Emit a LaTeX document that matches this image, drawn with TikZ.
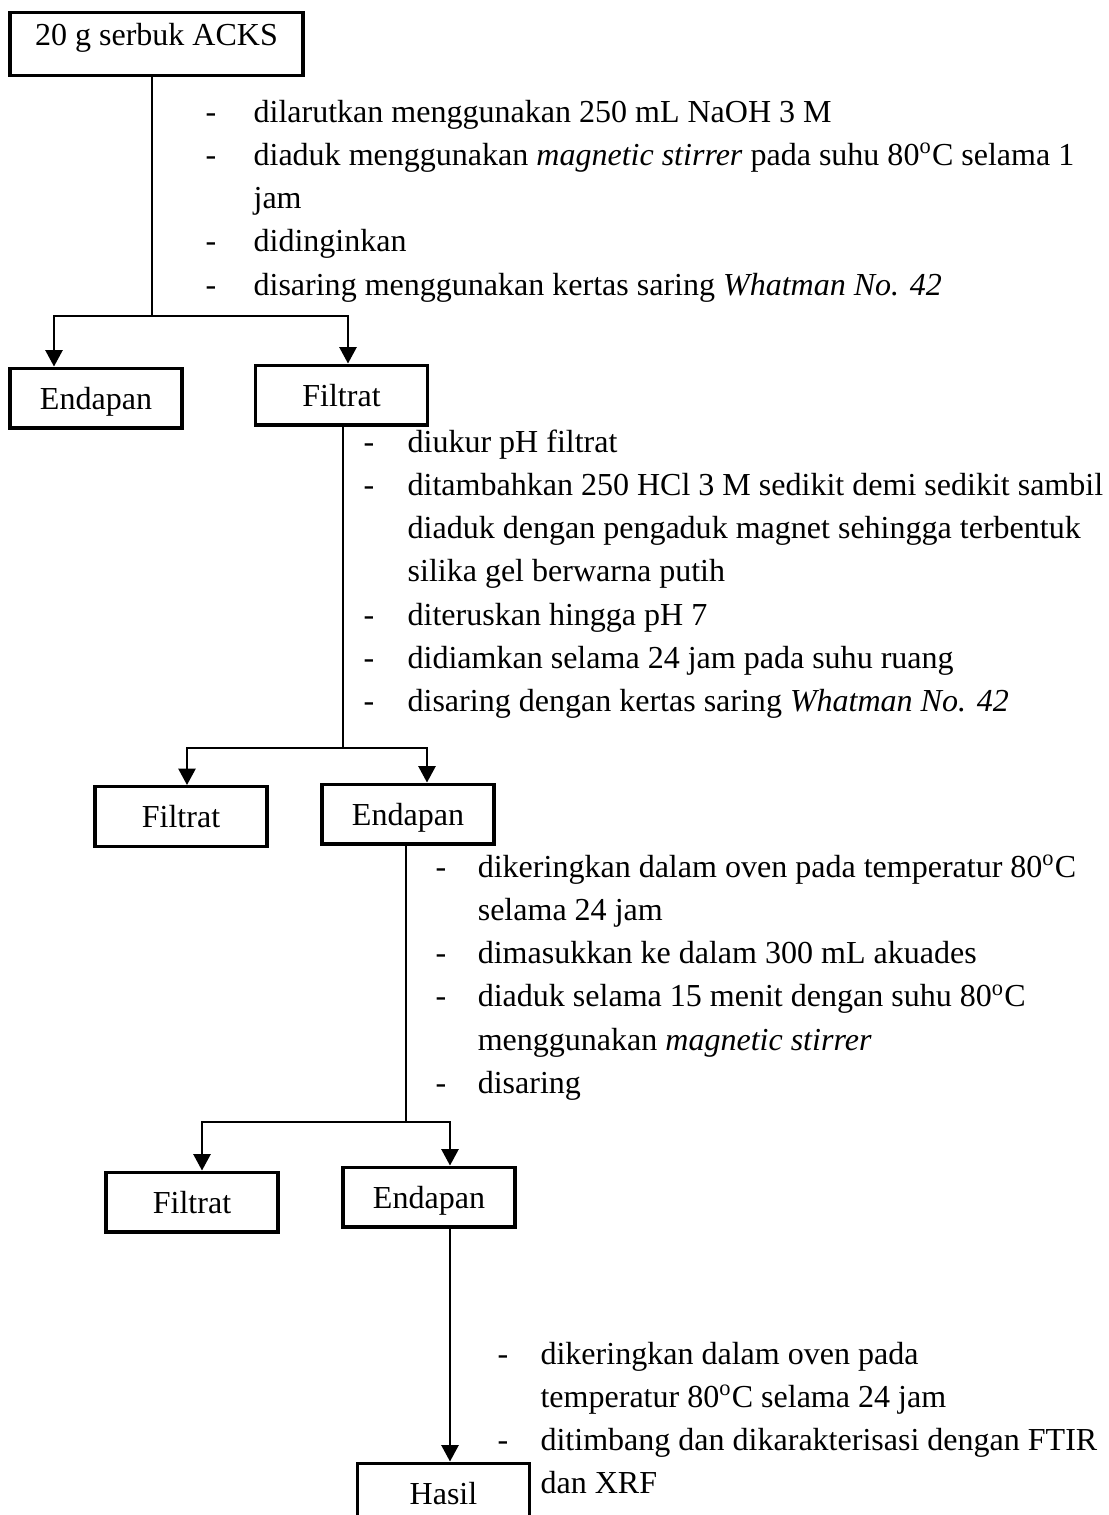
\documentclass[tikz,border=0pt]{standalone}
\usepackage{fontspec}
\setmainfont{Liberation Serif}
\usepackage{tikz}
\usetikzlibrary{
  arrows.meta,
  calc
}

\begin{document}
\begin{tikzpicture}[
  x=0.3785pt, y=-0.3785pt,
  every node/.style={font=\fontsize{12.12}{16.39}\selectfont, inner sep=0pt},
  box/.style={rectangle, draw, line width=1.15pt, minimum width=65.1pt,
              minimum height=22.7pt, text height=10.2pt, text depth=1.8pt},
  topbox/.style={box, minimum width=110.9pt, text height=12.5pt, text depth=11.35pt},
  steps/.style={anchor=base west},
  arr/.style={-{Triangle[width=6.5pt,length=6.2pt]}, line width=0.75pt},
  ln/.style={line width=0.75pt},
]
\useasboundingbox (0,0) rectangle (1109,1515);
\clip (0,0) rectangle (1109,1515);

% boxes
\node[topbox, anchor=north](b0) at (156.5,11) {20 g serbuk ACKS};
\node[box](e1) at (96,398)    {Endapan};
\node[box](f1) at (341.5,395) {Filtrat};
\node[box](f2) at (181,816.5) {Filtrat};
\node[box](e2) at (408,814)   {Endapan};
\node[box](f3) at (192,1202)  {Filtrat};
\node[box](e3) at (429,1197)  {Endapan};
\node[box](hs) at (443.5,1493) {Hasil};

% steps
\node[steps](t1) at (205,122) {\begin{tabular}[t]{@{}p{18.2pt}@{}l@{}}
- & dilarutkan menggunakan 250 mL NaOH 3 M\\
- & diaduk menggunakan \textit{magnetic stirrer} pada suhu 80\textsuperscript{o}C selama 1\\
  & jam\\
- & didinginkan\\
- & disaring menggunakan kertas saring \textit{Whatman No. 42}
\end{tabular}};
\node[steps](t2) at (363,452) {\begin{tabular}[t]{@{}p{16.7pt}@{}l@{}}
- & diukur pH filtrat\\
- & ditambahkan 250 HCl 3 M sedikit demi sedikit sambil\\
  & diaduk dengan pengaduk magnet sehingga terbentuk\\
  & silika gel berwarna putih\\
- & diteruskan hingga pH 7\\
- & didiamkan selama 24 jam pada suhu ruang\\
- & disaring dengan kertas saring \textit{Whatman No. 42}
\end{tabular}};
\node[steps](t3) at (435,877) {\begin{tabular}[t]{@{}p{16pt}@{}l@{}}
- & dikeringkan dalam oven pada temperatur 80\textsuperscript{o}C\\
  & selama 24 jam\\
- & dimasukkan ke dalam 300 mL akuades\\
- & diaduk selama 15 menit dengan suhu 80\textsuperscript{o}C\\
  & menggunakan \textit{magnetic stirrer}\\
- & disaring
\end{tabular}};
\node[steps](t4) at (497,1364) {\begin{tabular}[t]{@{}p{16.3pt}@{}l@{}}
- & dikeringkan dalam oven pada\\
  & temperatur 80\textsuperscript{o}C selama 24 jam\\
- & ditimbang dan dikarakterisasi dengan FTIR\\
  & dan XRF
\end{tabular}};

% split points
\coordinate (s1) at (152,316);
\coordinate (s2) at (343,748);
\coordinate (s3) at (406,1122);

\draw[ln](b0.south -| s1)--(s1);
\draw[arr](s1) -| ($(e1.north)+(-42,0)$);
\draw[arr](s1) -| ($(f1.north)+(6.5,0)$);

\draw[ln](f1.south -| s2)--(s2);
\draw[arr](s2) -| ($(f2.north)+(6,0)$);
\draw[arr](s2) -| ($(e2.north)+(19,0)$);

\draw[ln](e2.south -| s3)--(s3);
\draw[arr](s3) -| ($(f3.north)+(10,0)$);
\draw[arr](s3) -| ($(e3.north)+(21,0)$);

\draw[arr]($(e3.south)+(21,0)$)--($(hs.north)+(6.5,0)$);
\end{tikzpicture}
\end{document}
